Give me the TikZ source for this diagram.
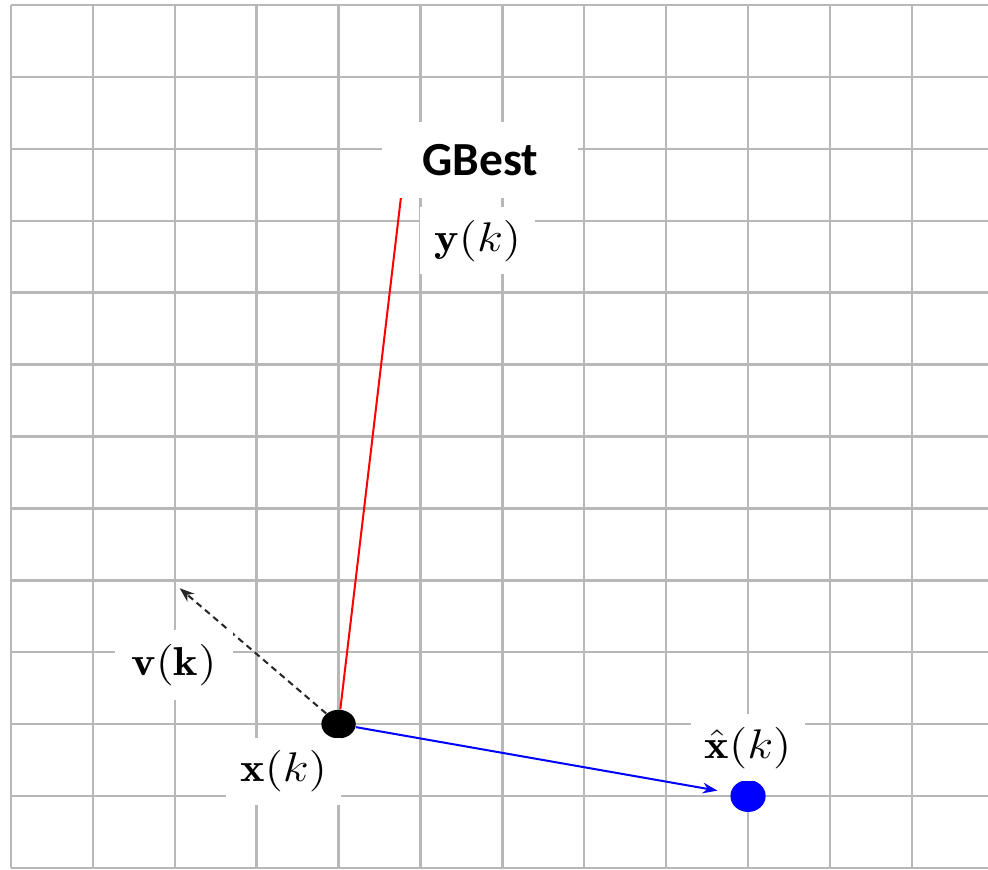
\documentclass[tikz,border=0pt]{standalone}
\usepackage{amsmath}
\usepackage{graphicx}
\usepackage{fontspec}
\newfontfamily\gbfont{Carlito}
\usetikzlibrary{arrows.meta, shapes.geometric}
\newcommand{\wlabel}[1]{\scalebox{1.15}[1]{#1}}

\begin{document}
\begin{tikzpicture}[
  x=1cm, y=0.878cm,
  gridline/.style={black!28, line width=0.85pt},
  dot/.style={ellipse, inner sep=0pt, minimum width=0.42cm, minimum height=0.35cm},
  lbl/.style={fill=white, inner sep=0pt, minimum width=1.4cm, minimum height=0.82cm, font=\fontsize{14}{16}\selectfont},
  arr/.style={-{Stealth[length=1.8mm, width=1.3mm]}, line width=0.7pt}
]

% canvas
\useasboundingbox (-0.134,-0.028) rectangle (11.93,12.07);
\clip (-0.134,-0.028) rectangle (11.93,12.07);
\fill[white] (-0.134,-0.028) rectangle (11.93,12.07);

% grid
\draw[gridline, step={(1,1)}] (0,0) grid (12,12);

% points
\node[dot, fill=black] (xk) at (4,2) {};
\node[dot, fill=blue, minimum width=0.43cm, minimum height=0.39cm] (xhat) at (9,1) {};
\coordinate (vtip) at (2.06,3.89);
\coordinate (gend) at (4.78,9.5);

% vectors
\draw[red, line width=0.7pt] (xk) -- (gend);
\draw[arr, black!85, dash pattern=on 2.2pt off 1.6pt] (xk) -- (vtip);
\draw[arr, blue, shorten >=4.5pt] (xk) -- (xhat);

% labels
\node[lbl, minimum width=2.39cm, minimum height=0.93cm, font=\gbfont\bfseries\fontsize{16.5}{19}\selectfont] (gbest) at (5.73,9.85) {GBest};
\node[lbl] (ylab) at (5.70,8.72) {\wlabel{$\mathbf{y}(k)$}};
\node[lbl, minimum width=1.44cm, minimum height=0.85cm] (vlab) at (1.99,2.82) {\wlabel{$\mathbf{v}(\mathbf{k})$}};
\node[lbl] (xlab) at (3.33,1.34) {\wlabel{$\mathbf{x}(k)$}};
\node[lbl] (xhatlab) at (9.0,1.67) {\wlabel{$\hat{\mathbf{x}}(k)$}};

\end{tikzpicture}
\end{document}
